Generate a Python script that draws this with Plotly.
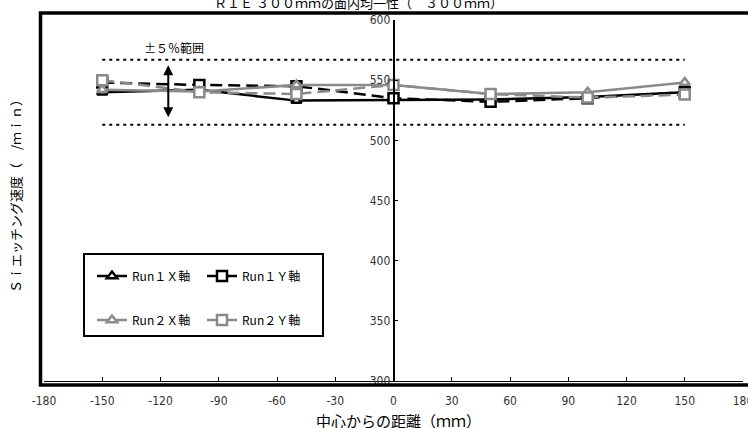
import plotly.graph_objects as go

# ---- data ----
positions_mm = [-150, -100, -50, 0, 50, 100, 150]
run1_x = [540, 542, 533, 533.5, 534, 536, 540]
run1_y = [548, 546, 545, 535, 532, 535, 540]
run2_x = [542, 540.5, 546, 546, 538.5, 540, 548]
run2_y = [550, 540, 538.5, 546, 538.5, 535.5, 538]

series_names = ["Run１Ｘ軸", "Run１Ｙ軸", "Run２Ｘ軸", "Run２Ｙ軸"]
average_rate = 540
band_ratio = 0.05
band_x = [-150, 150]

x_tick_vals = [-180, -150, -120, -90, -60, -30, 0, 30, 60, 90, 120, 150, 180]
x_tick_text = ["-180", "-150", "-120", "-90", "-60", "-30", "0", "30", "60", "90", "120", "150", "180"]
y_tick_vals = [300, 350, 400, 450, 500, 550, 600]

title_text = "ＲＩＥ ３００ｍｍの面内均一性（　３００ｍｍ）"
x_title = "中心からの距離（ｍｍ）"
y_title = "Ｓｉエッチング速度（　/ｍｉｎ）"
band_label = "±５％範囲"
arrow_x = -116

# ---- style ----
W, H = 748, 428
ML, MR, MT, MB = 44, 5, 20, 47
PW, PH = W - ML - MR, H - MT - MB
BLACK = "#000000"
GRAY = "#8a8a8a"
JP = "Noto Sans CJK JP, Noto Sans, sans-serif"
NARROW = "Liberation Sans Narrow, Arial Narrow, DejaVu Sans Condensed, sans-serif"


def px_x(p):
    return (p - ML) / PW


def px_y(p):
    return (H - MB - p) / PH


fig = go.Figure()

upper = average_rate * (1 + band_ratio)
lower = average_rate * (1 - band_ratio)
for yv in (upper, lower):
    fig.add_trace(go.Scatter(x=band_x, y=[yv, yv], mode="lines",
                             line=dict(color=BLACK, width=2, dash="3px,4px"),
                             showlegend=False, hoverinfo="skip"))

specs = [
    (run1_x, series_names[0], BLACK, "solid", "triangle-up", "legend"),
    (run1_y, series_names[1], BLACK, "12px,6px", "square", "legend2"),
    (run2_x, series_names[2], GRAY, "solid", "triangle-up", "legend3"),
    (run2_y, series_names[3], GRAY, "12px,6px", "square", "legend4"),
]
for vals, name, col, dash, sym, lg in specs:
    fig.add_trace(go.Scatter(
        x=positions_mm, y=vals, name=name, mode="lines+markers",
        line=dict(color=col, width=2.5, dash=dash),
        marker=dict(symbol=sym, size=10 if sym == "square" else 9,
                    color="white", line=dict(color=col, width=2.5)),
        legend=lg,
    ))

leg_common = dict(bgcolor="rgba(0,0,0,0)", borderwidth=0,
                  font=dict(family=JP, size=12, color=BLACK),
                  xanchor="left", yanchor="middle")
c1, c2 = px_x(92), px_x(202)
r1, r2 = px_y(276), px_y(320)

fig.update_layout(
    width=W, height=H,
    margin=dict(l=ML, r=MR, t=MT, b=MB, autoexpand=False),
    paper_bgcolor="white", plot_bgcolor="white",
    showlegend=True,
    legend=dict(x=c1, y=r1, **leg_common),
    legend2=dict(x=c2, y=r1, **leg_common),
    legend3=dict(x=c1, y=r2, **leg_common),
    legend4=dict(x=c2, y=r2, **leg_common),
    xaxis=dict(range=[-180, 180], tickvals=x_tick_vals, ticktext=x_tick_text,
               showline=True, linecolor=BLACK, linewidth=1,
               ticks="inside", ticklen=4, tickcolor=BLACK, tickwidth=1,
               showgrid=False, zeroline=False, automargin=False,
               ticklabelstandoff=9, ticklabeloverflow="allow",
               tickfont=dict(family=NARROW, size=12, color="#333333")),
    yaxis=dict(range=[300, 600], tickvals=y_tick_vals,
               anchor="free", position=0.5, side="left",
               showline=True, linecolor=BLACK, linewidth=1.5,
               ticks="inside", ticklen=4, tickcolor=BLACK, tickwidth=1,
               showgrid=False, zeroline=False, automargin=False,
               ticklabeloverflow="allow",
               tickfont=dict(family=NARROW, size=12, color="#333333")),
)

# outer chart frame
fig.add_shape(type="rect", xref="paper", yref="paper",
              x0=px_x(40.5), x1=px_x(760), y0=px_y(385), y1=px_y(13),
              line=dict(color=BLACK, width=3.5), fillcolor="rgba(0,0,0,0)", layer="above")
# legend frame
fig.add_shape(type="rect", xref="paper", yref="paper",
              x0=px_x(84), x1=px_x(323), y0=px_y(336), y1=px_y(254),
              line=dict(color=BLACK, width=2), fillcolor="rgba(0,0,0,0)", layer="above")

# ±5% arrow
fig.add_annotation(x=arrow_x, y=upper - 4.5, ax=arrow_x, ay=lower + 5,
                   xref="x", yref="y", axref="x", ayref="y", text="",
                   showarrow=True, arrowhead=2, arrowside="end+start",
                   arrowsize=1, arrowwidth=2, arrowcolor=BLACK)
fig.add_annotation(x=-113, y=577.5, xref="x", yref="y", text=band_label,
                   showarrow=False, font=dict(family=JP, size=12, color=BLACK))

# titles
fig.add_annotation(x=px_x(358), y=px_y(2), xref="paper", yref="paper",
                   xanchor="center", yanchor="middle",
                   text=title_text, showarrow=False,
                   font=dict(family=JP, size=13, color=BLACK))
fig.add_annotation(x=px_x(398), y=px_y(420), xref="paper", yref="paper",
                   xanchor="center", yanchor="middle",
                   text=x_title, showarrow=False,
                   font=dict(family=JP, size=15, color=BLACK))
fig.add_annotation(x=px_x(15), y=px_y(193), xref="paper", yref="paper",
                   xanchor="center", yanchor="middle",
                   text=y_title, textangle=-90, showarrow=False,
                   font=dict(family=JP, size=13, color=BLACK))

fig.write_html("out.html",
               config={"displayModeBar": False},
               post_script="document.body.style.margin='0';"
                           "document.documentElement.style.overflow='hidden';"
                           "document.body.style.overflow='hidden';")
